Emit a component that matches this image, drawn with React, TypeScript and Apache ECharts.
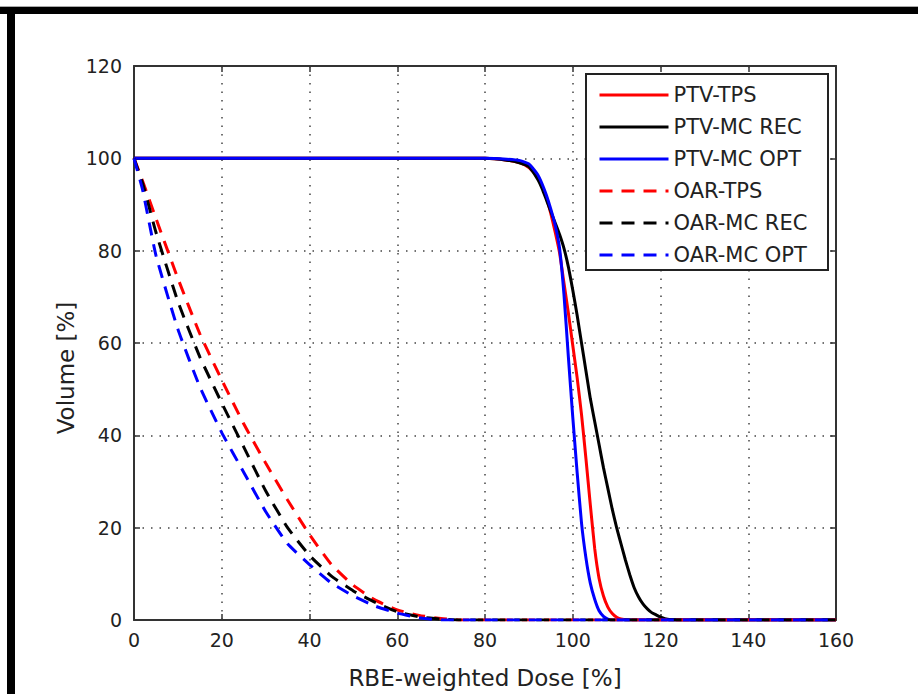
import React, { useEffect, useRef } from "react";
import * as echarts from "echarts";

const FONT = "DejaVu Sans";

const seriesNames = ["PTV-TPS", "PTV-MC REC", "PTV-MC OPT", "OAR-TPS", "OAR-MC REC", "OAR-MC OPT"];
const seriesColors = ["#ff0000", "#000000", "#0000ff", "#ff0000", "#000000", "#0000ff"];

const ptvTpsDose = [0, 80, 85, 88, 90, 92, 93, 94, 95, 96, 97, 98, 99, 100, 101, 102, 103, 104, 105, 106, 107, 108, 109, 110, 111, 113, 160];
const ptvTpsVol = [100, 100, 99.6, 99, 98, 96, 94, 91.5, 88, 84, 79.5, 73, 66.5, 59.5, 52.5, 44.5, 35, 25, 15.5, 9, 5.2, 2.8, 1.4, 0.6, 0.2, 0, 0];

const ptvMcRecDose = [0, 80, 85, 88, 90, 92, 93, 94, 95, 96, 97, 98, 99, 100, 101, 102, 103, 104, 105, 106, 107, 108, 109, 110, 111, 112, 113, 114, 115, 116, 117, 118, 119, 120, 121, 122, 125, 160];
const ptvMcRecVol = [100, 100, 99.6, 99, 98.2, 95.5, 93.5, 91, 88.5, 86, 83.5, 80.5, 76.5, 71.5, 66, 60, 54, 48, 43, 38, 33, 28.5, 24, 20, 16.5, 13, 9.8, 7, 5, 3.5, 2.4, 1.6, 1.1, 0.6, 0.3, 0.1, 0, 0];

const ptvMcOptDose = [0, 80, 85, 88, 90, 92, 93, 94, 95, 96, 97, 98, 99, 100, 101, 102, 103, 104, 105, 106, 107, 108, 109, 160];
const ptvMcOptVol = [100, 100, 99.8, 99.5, 98.8, 96.5, 94.5, 92, 89, 85.5, 80.5, 70.5, 57, 44, 32, 21, 13.5, 8, 4.5, 2, 0.8, 0.2, 0, 0];

const oarDose = [0, 2, 5, 10, 15, 20, 25, 30, 35, 40, 45, 50, 55, 60, 65, 70, 75, 160];
const oarTpsVol = [100, 95, 87, 74, 62, 52, 42.5, 34, 26, 18.5, 12, 7.5, 4.3, 2.2, 1, 0.3, 0, 0];
const oarMcRecVol = [100, 94.5, 84, 69, 57, 47, 37.5, 28, 20, 14, 9.5, 6.3, 3.8, 1.8, 0.7, 0.2, 0, 0];
const oarMcOptVol = [100, 93, 79, 63, 50.5, 40.6, 32, 23.5, 16.5, 12, 8, 5.2, 3, 1.5, 0.5, 0, 0, 0];

const xTicks = { min: 0, max: 160, interval: 20 };
const yTicks = { min: 0, max: 120, interval: 20 };

const pairs = (xs: number[], ys: number[]) => xs.map((x, i) => [x, ys[i]]);

export default function App() {
  const ref = useRef<HTMLDivElement>(null);
  useEffect(() => {
    if (!ref.current) return;
    const chart = echarts.init(ref.current, null, { renderer: "svg" });
    const dataSets = [
      pairs(ptvTpsDose, ptvTpsVol),
      pairs(ptvMcRecDose, ptvMcRecVol),
      pairs(ptvMcOptDose, ptvMcOptVol),
      pairs(oarDose, oarTpsVol),
      pairs(oarDose, oarMcRecVol),
      pairs(oarDose, oarMcOptVol),
    ];
    const axisLine = { show: true, onZero: false, lineStyle: { color: "#333", width: 2 } };
    const axisTick = { show: true, inside: true, length: 6, lineStyle: { color: "#333", width: 1.5 } };
    const splitLine = { show: true, lineStyle: { color: "#444", width: 1.5, type: [1.5, 7] } };
    const labelStyle = { fontSize: 19, color: "#222", fontFamily: FONT };
    chart.setOption({
      animation: false,
      backgroundColor: "#fff",
      grid: { left: 134, top: 66, right: 82, bottom: 74 },
      xAxis: [
        {
          type: "value", ...xTicks, position: "bottom",
          axisLine, axisTick, splitLine,
          axisLabel: { ...labelStyle, margin: 10 },
          name: "RBE-weighted Dose [%]", nameLocation: "middle", nameGap: 46,
          nameTextStyle: { fontSize: 23, color: "#222", fontFamily: FONT },
        },
        {
          type: "value", ...xTicks, position: "top",
          axisLine, axisTick, splitLine: { show: false }, axisLabel: { show: false },
        },
      ],
      yAxis: [
        {
          type: "value", ...yTicks, position: "left",
          axisLine, axisTick, splitLine,
          axisLabel: { ...labelStyle, margin: 12 },
        },
        {
          type: "value", ...yTicks, position: "right",
          axisLine, axisTick, splitLine: { show: false }, axisLabel: { show: false },
        },
      ],
      legend: {
        data: seriesNames,
        orient: "vertical",
        left: 586,
        top: 74,
        padding: [10, 16, 6, 12],
        itemWidth: 69,
        itemHeight: 22,
        itemGap: 10,
        itemStyle: { opacity: 0 },
        lineStyle: { width: 3 },
        textStyle: { fontSize: 21, color: "#222", fontFamily: FONT, lineHeight: 22 },
        z: 6,
      },
      graphic: [
        { type: "rect", shape: { x: 0, y: 6, width: 918, height: 1 }, style: { fill: "#aaa" } },
        { type: "rect", shape: { x: 0, y: 7, width: 918, height: 7 }, style: { fill: "#000" } },
        { type: "rect", shape: { x: 7, y: 7, width: 8, height: 687 }, style: { fill: "#000" } },
        {
          type: "rect", z: 5,
          shape: { x: 586, y: 74, width: 242, height: 196 },
          style: { fill: "#fff", stroke: "#222", lineWidth: 2 },
        },
        {
          type: "text", x: 66, y: 368, rotation: Math.PI / 2,
          style: {
            text: "Volume [%]", fontSize: 23, fill: "#222", fontFamily: FONT,
            align: "center", verticalAlign: "middle",
          },
        },
      ],
      series: seriesNames.map((name, i) => ({
        name,
        type: "line",
        data: dataSets[i],
        symbol: "none",
        showSymbol: false,
        smooth: 0.15,
        color: seriesColors[i],
        lineStyle: {
          color: seriesColors[i],
          width: 3,
          type: i >= 3 ? [13, 9] : "solid",
        },
        z: 2,
      })),
    });
    return () => chart.dispose();
  }, []);
  return (
    <div
      ref={ref}
      style={{ position: "fixed", left: 0, top: 0, width: 918, height: 694, background: "#fff" }}
    />
  );
}
